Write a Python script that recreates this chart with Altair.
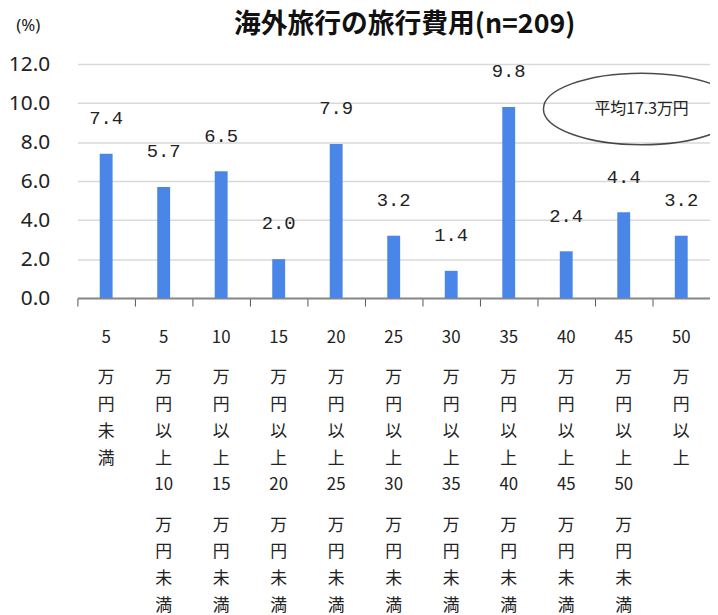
import json
import altair as alt
import pandas as pd

# ---- data ----
categories = [
    "5万円未満", "5万円以上10万円未満", "10万円以上15万円未満", "15万円以上20万円未満",
    "20万円以上25万円未満", "25万円以上30万円未満", "30万円以上35万円未満",
    "35万円以上40万円未満", "40万円以上45万円未満", "45万円以上50万円未満", "50万円以上",
]
values = [7.4, 5.7, 6.5, 2.0, 7.9, 3.2, 1.4, 9.8, 2.4, 4.4, 3.2]
lower = ["5", "5", "10", "15", "20", "25", "30", "35", "40", "45", "50"]
upper = [None, "10", "15", "20", "25", "30", "35", "40", "45", "50", None]
kinds = ["未満", "以上", "以上", "以上", "以上", "以上", "以上", "以上", "以上", "以上", "以上"]
y_ticks = [0, 2, 4, 6, 8, 10, 12]
title_text = "海外旅行の旅行費用(n=209)"
note_text = "平均17.3万円"
note_category = "45万円以上50万円未満"
note_value = 9.7

S = "\u200b"


def block(num, tail):
    return [num, S, S, "万", S, "円", S, tail[0], S, tail[1]]


tick_lines = []
for lo, hi, k in zip(lower, upper, kinds):
    lines = block(lo, k)
    if hi is not None:
        lines += [S] + block(hi, "未満")
    tick_lines.append(lines)

label_expr = f"{json.dumps(tick_lines, ensure_ascii=True)}[indexof({json.dumps(categories, ensure_ascii=True)}, datum.label)]"

df = pd.DataFrame({"cat": categories, "val": values})
note_df = pd.DataFrame({"cat": [note_category], "val": [note_value], "txt": [note_text]})

x = alt.X(
    "cat:N", sort=categories, title=None,
    scale=alt.Scale(paddingInner=0, paddingOuter=0),
    axis=alt.Axis(
        labelExpr=label_expr, labelAngle=0, labelBaseline="top", labelAlign="center",
        labelLineHeight=13.5, labelFont="Noto Sans CJK JP", labelFontSize=17,
        labelColor="#222222", labelPadding=24, tickSize=8, tickColor="#555555",
        domainColor="#888888", domainWidth=2, bandPosition=0, grid=False,
        labelLimit=0, labelOverlap=False,
    ),
)
y = alt.Y(
    "val:Q", title="(%)",
    scale=alt.Scale(domain=[0, 12], nice=False),
    axis=alt.Axis(
        values=y_ticks, tickCount=20, format=".1f", labelFont="Noto Sans",
        labelFontSize=21, labelColor="#222222", labelPadding=28, ticks=False,
        labelOverlap=False, domain=False, gridColor="#d9d9d9", gridWidth=1.5,
        titleAngle=0, titleX=-50, titleY=-39, titleFont="Noto Sans",
        titleFontSize=17, titleFontWeight="normal", titleColor="#222222",
        titleAlign="center", titleBaseline="middle",
    ),
)

bars = alt.Chart(df).mark_bar(size=13, color="#4a86e8").encode(x=x, y=y)
labels = alt.Chart(df).mark_text(
    baseline="alphabetic", dy=-30, font="Liberation Mono", fontSize=19, color="#222222"
).encode(x=alt.X("cat:N", sort=categories), y="val:Q", text=alt.Text("val:Q", format=".1f"))

ellipse = alt.Chart(note_df).mark_point(
    shape="M-1,0A1,0.365 0 1,1 1,0A1,0.365 0 1,1 -1,0Z",
    size=39204, filled=False, stroke="#000000", strokeWidth=1.5, xOffset=18, clip=False,
).encode(x=alt.X("cat:N", sort=categories), y="val:Q")
note = alt.Chart(note_df).mark_text(
    font="Noto Sans CJK JP", fontSize=16, color="#222222", dx=18, baseline="middle"
).encode(x=alt.X("cat:N", sort=categories), y="val:Q", text="txt:N")

chart = (
    alt.layer(bars, labels, ellipse, note)
    .properties(
        width=638, height=236,
        autosize=alt.AutoSizeParams(type="none"),
        padding={"left": 70, "top": 54, "right": 0, "bottom": 317},
        title=alt.TitleParams(
            title_text, font="Noto Sans CJK JP", fontSize=27, fontWeight="bold",
            color="#111111", anchor="middle", dx=11, dy=53, offset=30,
        ),
    )
    .configure_view(stroke=None)
)

chart.save("out.html", embed_options={"renderer": "svg", "actions": False})
